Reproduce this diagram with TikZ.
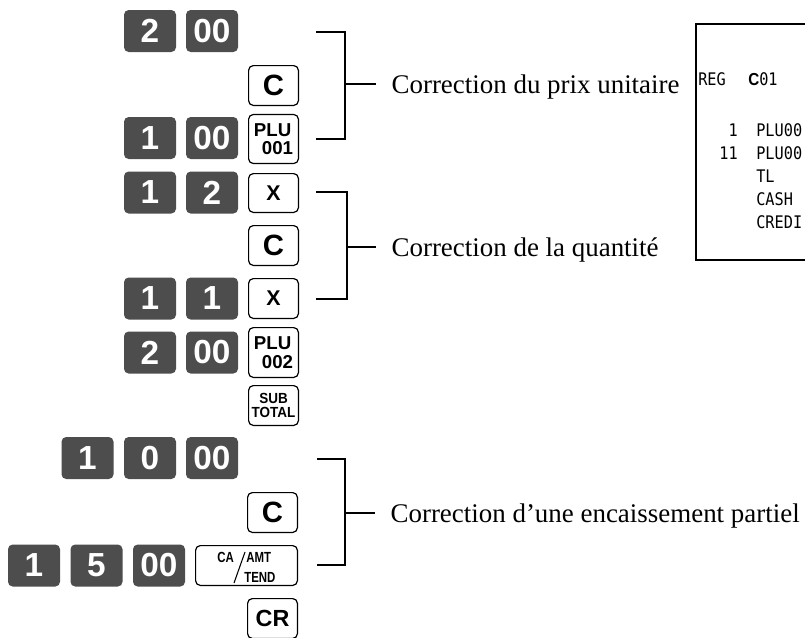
\documentclass[tikz,border=0pt]{standalone}
\usepackage{fontspec}
\setmainfont{Liberation Serif}
\setsansfont{Liberation Sans}
\setmonofont{DejaVu Sans Mono}
\usepackage{graphicx}
\usetikzlibrary{calc}
\definecolor{keygray}{RGB}{77,77,77}
\tikzset{
  numkey/.style={fill=keygray, rounded corners=3.5pt, minimum width=39pt, minimum height=31.5pt,
    inner sep=0pt, text=white, font=\sffamily\bfseries\fontsize{25}{25}\selectfont},
  fnkey/.style={draw, line width=0.9pt, rounded corners=3.5pt, fill=white, minimum width=37.35pt,
    minimum height=29.85pt, inner sep=0pt, font=\sffamily\bfseries\fontsize{#1}{#1}\selectfont},
  fnkey/.default=22,
  keytxt/.style={inner sep=0pt, anchor=base west, font=\sffamily\bfseries\fontsize{11}{11}\selectfont},
  brk/.style={line width=0.8pt},
  lbl/.style={font=\fontsize{20.2}{24}\selectfont, anchor=base west, inner xsep=11.5pt, inner ysep=0pt},
  rcpt/.style={font=\ttfamily\fontsize{13}{15}\selectfont, inner sep=0pt},
}
\newcommand{\narrow}[1]{\scalebox{0.78}[1]{#1}}
\newcommand{\slim}[1]{\scalebox{0.88}[1]{#1}}
\begin{document}
\begin{tikzpicture}[x=0.75pt,y=-0.75pt]
\useasboundingbox (0,0) rectangle (805,637);
\clip (0,0) rectangle (805,637);

% correction du prix unitaire
\node[numkey] (ka2) at (150,31) {2};
\node[numkey] (ka00) at (212,31) {00};
\node[fnkey] (kac) at (273.5,85.5) {C};
\node[numkey] (kb1) at (150,138) {1};
\node[numkey] (kb00) at (212,138) {00};
\node[fnkey=14, minimum height=36.75pt, align=left] (kplua) at (273.5,139)
  {\fontsize{14}{15.75}\selectfont PLU\\\hspace*{6pt}001};

% correction de la quantite
\node[numkey] (kc1) at (150,192.5) {1};
\node[numkey] (kc2) at (212,192.5) {2};
\node[fnkey=16, minimum height=29.1pt] (kcx) at (273.5,193) {X};
\node[fnkey] (kdc) at (273.5,245.5) {C};
\node[numkey] (ke1) at (150,298.5) {1};
\node[numkey] (ke1b) at (212,298.5) {1};
\node[fnkey=16] (kex) at (273.5,298.5) {X};
\node[numkey] (kf2) at (150,352.5) {2};
\node[numkey] (kf00) at (212,352.5) {00};
\node[fnkey=14, minimum height=37.35pt, align=left] (kplub) at (273.5,352.5)
  {\fontsize{14}{15.75}\selectfont PLU\\\hspace*{6pt}002};
\node[fnkey=11, align=center] (ksub) at (273.5,405.5)
  {\fontsize{11}{11.25}\selectfont\scalebox{0.92}[1]{SUB}\\\scalebox{0.92}[1]{TOTAL}};

% correction d'un encaissement partiel
\node[numkey] (kg1) at (87.5,458) {1};
\node[numkey] (kg0) at (150,458) {0};
\node[numkey] (kg00) at (212,458) {00};
\node[fnkey] (khc) at (272.5,512.5) {C};
\node[numkey] (ki1) at (34,565.5) {1};
\node[numkey] (ki5) at (96.5,565.5) {5};
\node[numkey] (ki00) at (159,565.5) {00};
\node[fnkey, minimum width=76.35pt] (kca) at (246.5,565.5) {};
\node[keytxt] (tca) at (217,562) {\narrow{CA}};
\node[keytxt] (tamt) at (246,562) {\narrow{AMT}};
\node[keytxt] (ttend) at (244,582) {\narrow{TEND}};
\draw[line width=0.8pt] (234,583) -- (245,552);
\node[fnkey=17.5] (kcr) at (272.5,618.5) {CR};

% accolades et legendes
\draw[brk] (316,32) -- (345,32) -- (345,139) -- (316,139);
\draw[brk] (316,192) -- (347,192) -- (347,299) -- (316,299);
\draw[brk] (317,459) -- (345,459) -- (345,565) -- (317,565);
\coordinate (ba) at (345,84);
\coordinate (bb) at (347,247);
\coordinate (bc) at (345,513);
\node[lbl] (lprix) at (376,93) {Correction du prix unitaire};
\node[lbl] (lqte) at (376,256) {Correction de la quantité};
\node[lbl] (lenc) at (375,522) {Correction d’une encaissement partiel};
\draw[brk] (ba) -- (ba -| lprix.west);
\draw[brk] (bb) -- (bb -| lqte.west);
\draw[brk] (bc) -- (bc -| lenc.west);

% ticket
\draw[line width=0.9pt] (815,24) -| (696,260) -- (815,260);
\node[rcpt, anchor=base west] (rreg) at (698,85) {\slim{REG}};
\node[rcpt, anchor=base west] (rclk) at (748,85) {\slim{{\sffamily\bfseries C}01}};
\foreach \q/\t/\y in {1/PLU00/136, 11/PLU00/159, /TL/182, /CASH/205, /CREDI/228}{
  \node[rcpt, anchor=base east] (rq\y) at (738,\y) {\slim{\q}};
  \node[rcpt, anchor=base west] (rt\y) at (756,\y) {\slim{\t}};
}
\end{tikzpicture}
\end{document}
